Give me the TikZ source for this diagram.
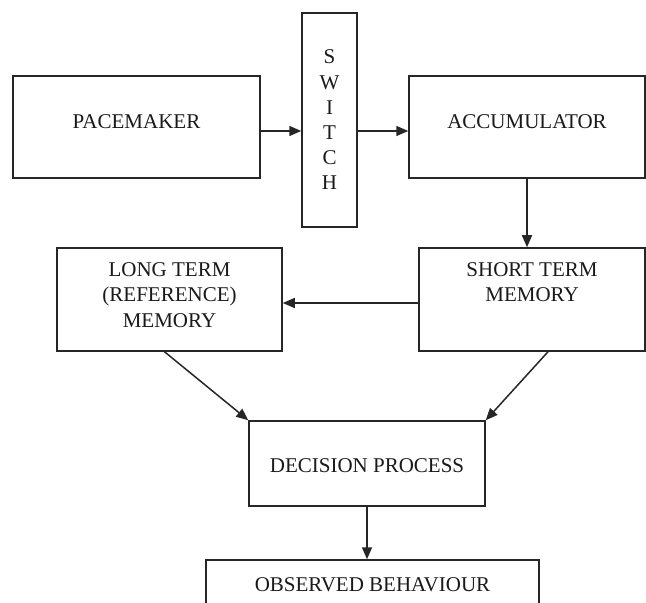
\documentclass[tikz,border=0pt]{standalone}
\usepackage{fontspec}
\setmainfont{Liberation Serif}
\usetikzlibrary{arrows.meta}

\begin{document}
\begin{tikzpicture}[x=0.5pt, y=-0.5pt,
    every node/.style={font=\fontsize{10.5}{12.6}\selectfont, text=black!90},
    box/.style={draw=black!85, line width=0.75pt, inner sep=0pt},
    link/.style={draw=black!85, line width=0.75pt, -{Triangle[length=6pt, width=5pt]}}]
  \useasboundingbox (0,0) rectangle (646,603);
  \clip (0,0) rectangle (646,603);

  %% ---------- TOP: clock stage ----------
  \node[box, minimum width=123.5pt, minimum height=51pt, text depth=5pt]
    (pacemaker) at (136.5,127) {PACEMAKER};
  \node[box, minimum width=27.5pt, minimum height=107pt, align=center]
    (switch) at (329.5,120) {S\\W\\I\\T\\C\\H};
  \node[box, minimum width=118pt, minimum height=51pt, text depth=5pt]
    (accumulator) at (527,127) {ACCUMULATOR};

  %% ---------- MIDDLE: memory stores ----------
  \node[box, minimum width=112.5pt, minimum height=51.5pt,
      label={[anchor=north, yshift=-4.25pt, align=center]north:LONG TERM\\(REFERENCE)\\MEMORY}]
    (longterm) at (169.5,299.5) {};
  \node[box, minimum width=113pt, minimum height=51.5pt,
      label={[anchor=north, yshift=-4.25pt, align=center]north:SHORT TERM\\MEMORY}]
    (shortterm) at (532,299.5) {};

  %% ---------- BOTTOM: comparison and output ----------
  \node[box, minimum width=118pt, minimum height=42.5pt, text height=9.45pt]
    (decision) at (367,463.5) {DECISION PROCESS};
  \node[box, minimum width=166.5pt, minimum height=25pt]
    (observed) at (372.5,585) {OBSERVED BEHAVIOUR};

  % connectors
  \draw[link] ([yshift=-2pt]pacemaker.east) -- ([yshift=-2pt]pacemaker.east -| switch.west);
  \draw[link] ([yshift=-2pt]accumulator.west -| switch.east) -- ([yshift=-2pt]accumulator.west);
  \draw[link] (accumulator.south) -- (accumulator.south |- shortterm.north);
  \draw[link] ([yshift=-1.75pt]shortterm.west) -- ([yshift=-1.75pt]shortterm.west -| longterm.east);
  \draw[link] ([xshift=-2.5pt]longterm.south) -- (decision.north west);
  \draw[link] ([xshift=8pt]shortterm.south) -- (decision.north east);
  \draw[link] (decision.south) -- (decision.south |- observed.north);
\end{tikzpicture}
\end{document}
